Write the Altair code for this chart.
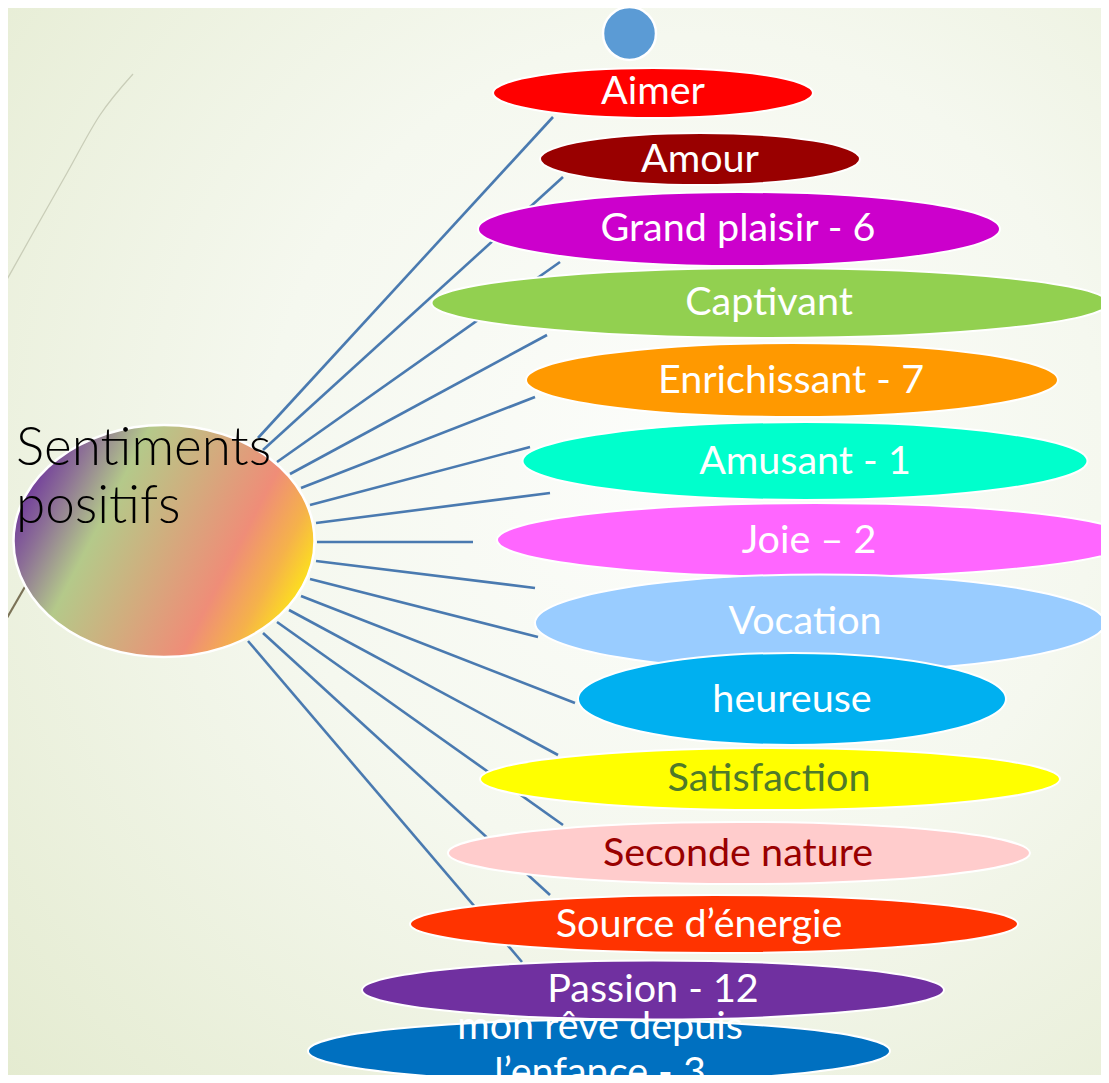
import altair as alt
import pandas as pd

W, H = 1109, 1083
M = 8  # page margin of the browser

# ---- data ----
labels = ["Aimer", "Amour", "Grand plaisir - 6", "Captivant", "Enrichissant - 7",
          "Amusant - 1", "Joie \u2013 2", "Vocation", "heureuse", "Satisfaction",
          "Seconde nature", "Source d\u2019\u00e9nergie", "Passion - 12",
          "mon r\u00eave depuis l\u2019enfance - 3"]
fills = ["#ff0000", "#990000", "#cc00cc", "#92d050", "#ff9900", "#00ffcc", "#ff66ff",
         "#99ccff", "#00b0f0", "#ffff00", "#ffcccc", "#ff3300", "#7030a0", "#0070c0"]
ell_cx = [653, 700, 739, 770, 792, 805, 815, 820, 792, 770, 739, 714, 653, 599]
ell_cy = [93, 159, 229, 303, 380, 461, 540, 623, 699, 779, 853, 924, 990, 1051]
ell_w = [320, 320, 522, 677, 532, 565, 636, 570, 428, 580, 582, 608, 582, 582]
ell_h = [50, 52, 74, 70, 74, 78, 74, 97, 92, 62, 62, 58, 59, 62]

# text lines written inside the ellipses (item index, text, colour, position)
txt_item = [0, 1, 2, 3, 4, 5, 6, 7, 8, 9, 10, 11, 12, 13, 13]
txt_text = ["Aimer", "Amour", "Grand plaisir - 6", "Captivant", "Enrichissant - 7",
            "Amusant - 1", "Joie \u2013 2", "Vocation", "heureuse", "Satisfaction",
            "Seconde nature", "Source d\u2019\u00e9nergie", "Passion - 12",
            "mon r\u00eave depuis", "l\u2019enfance - 3"]
txt_color = ["#ffffff"] * 9 + ["#4f7a2a", "#990000"] + ["#ffffff"] * 4
txt_x = [653, 700, 738, 769, 791, 805, 809, 805, 792, 769, 738, 699, 653, 600, 600]
txt_y = [92, 160, 229, 303, 381, 462, 541, 622, 700, 779, 854, 925, 990, 1027, 1073]

# connector lines (start on the central ellipse, end behind the labels)
line_x1 = [258, 263, 277, 290, 301, 310, 316, 317, 316, 310, 301, 289, 277, 263, 248]
line_y1 = [438, 450, 462, 474, 488, 505, 523, 542, 561, 579, 596, 610, 622, 633, 641]
line_x2 = [553, 563, 560, 547, 535, 530, 550, 473, 535, 538, 575, 558, 563, 550, 522]
line_y2 = [117, 177, 262, 335, 397, 447, 493, 542, 588, 637, 703, 755, 825, 895, 962]

# central node and small top circle
center_x, center_y, center_w, center_h = [164], [541], [301], [232]
dot_x, dot_y, dot_d = [629.5], [33.5], [53]

# title text of central node
title_text = ["Sentiments", "positifs"]
title_x = [16, 16]
title_y = [465, 523]

# decorative background strokes
deco_x = [133, 100, 67, 33, 0, 52, 0]
deco_y = [74, 115, 173, 233, 292, 540, 630]
deco_g = ["a", "a", "a", "a", "a", "b", "b"]
deco_color = ["#c9cdb8"] * 5 + ["#7b7257"] * 2
deco_width = [1.3] * 5 + [2.2] * 2

K = 0.5523


def ellipse_path(w, h):
    r = h / w
    return (f"M -1 0 C -1 {-K*r:.4f} {-K} {-r:.4f} 0 {-r:.4f} "
            f"C {K} {-r:.4f} 1 {-K*r:.4f} 1 0 "
            f"C 1 {K*r:.4f} {K} {r:.4f} 0 {r:.4f} "
            f"C {-K} {r:.4f} -1 {K*r:.4f} -1 0 Z")


items = pd.DataFrame({
    "idx": list(range(len(labels))), "label": labels, "fill": fills,
    "cx": ell_cx, "cy": ell_cy,
    "path": [ellipse_path(w, h) for w, h in zip(ell_w, ell_h)],
    "size": [w * w for w in ell_w],
})
texts = pd.DataFrame({"idx": txt_item, "text": txt_text, "c": txt_color,
                      "x": txt_x, "y": txt_y})

lines = pd.DataFrame({"x1": line_x1, "y1": line_y1, "x2": line_x2, "y2": line_y2})
center = pd.DataFrame({"x": center_x, "y": center_y,
                       "path": [ellipse_path(center_w[0], center_h[0])],
                       "size": [center_w[0] ** 2]})
dot = pd.DataFrame({"x": dot_x, "y": dot_y, "path": [ellipse_path(dot_d[0], dot_d[0])],
                    "size": [dot_d[0] ** 2], "fill": ["#5b9bd5"]})
title = pd.DataFrame({"text": title_text, "x": title_x, "y": title_y})
deco = pd.DataFrame({"x": deco_x, "y": deco_y, "g": deco_g, "c": deco_color,
                     "sw": deco_width, "o": list(range(len(deco_x)))})

# plot area sits inside the page margins; domains are in page pixels
xs = alt.Scale(domain=[M, W - M], nice=False, zero=False)
ys = alt.Scale(domain=[M, H - M], reverse=True, nice=False, zero=False)
PW, PH = W - 2 * M, H - 2 * M


def X(f):
    return alt.X(f + ":Q", scale=xs, axis=None)


def Y(f):
    return alt.Y(f + ":Q", scale=ys, axis=None)


bg = alt.Chart(alt.Data(values=[{"a": 1}])).mark_rect(
    fill=alt.RadialGradient(
        gradient="radial", x1=0.62, y1=0.42, r1=0.0, x2=0.62, y2=0.42, r2=0.85,
        stops=[alt.GradientStop(color="#fcfdfb", offset=0),
               alt.GradientStop(color="#f5f8ef", offset=0.45),
               alt.GradientStop(color="#e4ebd0", offset=1)])
).encode(x=alt.value(0), x2=alt.value(PW), y=alt.value(0), y2=alt.value(PH))

deco_layer = alt.Chart(deco).mark_line(interpolate="monotone").encode(
    x=X("x"), y=Y("y"), detail="g:N", order="o:Q",
    color=alt.Color("c:N", scale=None), strokeWidth=alt.StrokeWidth("sw:Q", scale=None))

rules = alt.Chart(lines).mark_rule(color="#4a7ab0", strokeWidth=2.6).encode(
    x=X("x1"), y=Y("y1"), x2="x2:Q", y2="y2:Q")

center_layer = alt.Chart(center).mark_point(
    filled=True, opacity=1, stroke="white", strokeWidth=2.5,
    fill=alt.LinearGradient(
        gradient="linear", x1=0, y1=0.3, x2=1, y2=0.7,
        stops=[alt.GradientStop(color="#6a2e9e", offset=0.0),
               alt.GradientStop(color="#8c6f96", offset=0.13),
               alt.GradientStop(color="#b4c98a", offset=0.29),
               alt.GradientStop(color="#d1ad7e", offset=0.5),
               alt.GradientStop(color="#ef8d78", offset=0.72),
               alt.GradientStop(color="#f5b24a", offset=0.86),
               alt.GradientStop(color="#ffee10", offset=1.0)])
).encode(x=X("x"), y=Y("y"), shape=alt.Shape("path:N", scale=None),
         size=alt.Size("size:Q", scale=None))

title_layer = alt.Chart(title).mark_text(
    align="left", baseline="alphabetic", font="Lato", fontWeight=300, fontSize=53,
    color="#000000").encode(x=X("x"), y=Y("y"), text="text:N")

dot_layer = alt.Chart(dot).mark_point(
    filled=True, opacity=1, stroke="white", strokeWidth=2.5
).encode(x=X("x"), y=Y("y"), shape=alt.Shape("path:N", scale=None),
         size=alt.Size("size:Q", scale=None), fill=alt.Fill("fill:N", scale=None))

layers = [bg, deco_layer, rules, center_layer, title_layer, dot_layer]
for i in range(len(labels)):
    layers.append(alt.Chart(items).transform_filter(alt.datum.idx == i).mark_point(
        filled=True, opacity=1, stroke="white", strokeWidth=2).encode(
        x=X("cx"), y=Y("cy"), shape=alt.Shape("path:N", scale=None),
        size=alt.Size("size:Q", scale=None), fill=alt.Fill("fill:N", scale=None)))
    layers.append(alt.Chart(texts).transform_filter(alt.datum.idx == i).mark_text(
        align="center", baseline="middle", font="Lato", fontSize=39.5).encode(
        x=X("x"), y=Y("y"), text="text:N", color=alt.Color("c:N", scale=None)))

chart = alt.layer(*layers).properties(
    width=PW, height=PH, autosize=alt.AutoSizeParams(type="none"),
    padding=0, background="#eef2e2",
).configure_view(stroke=None)

chart.save("out.html", embed_options={"renderer": "svg", "actions": False})
